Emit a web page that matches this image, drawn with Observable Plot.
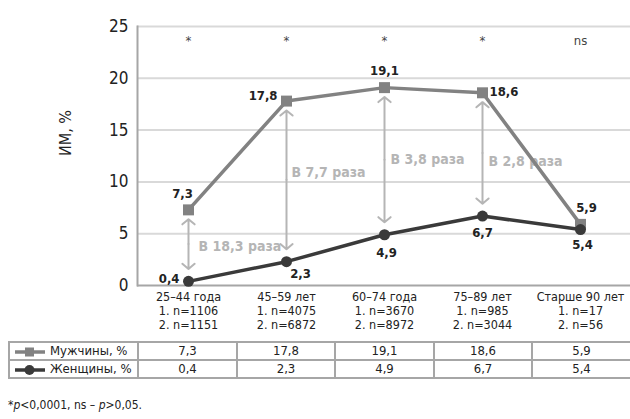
<!DOCTYPE html>
<html>
<head>
<meta charset="utf-8">
<script src="https://cdn.jsdelivr.net/npm/d3@7"></script>
<script src="https://cdn.jsdelivr.net/npm/@observablehq/plot@0.6"></script>
<style>
  body { margin: 0; background: #fff; font-family: "DejaVu Sans Condensed", "Liberation Sans Narrow", sans-serif; color: #222; }
  #chart svg { display: block; }
  table { border-collapse: collapse; table-layout: fixed; margin-left: 8px; margin-top: 6px; width: 622px; font-size: 13px; }
  td { border: 2px solid #a6a6a6; height: 16px; padding: 0; text-align: center; line-height: 16px; }
  td.lab { text-align: left; white-space: nowrap; }
  td.lab svg { vertical-align: middle; margin: 0 4px 0 4px; }
  .note { margin: 19px 0 0 8px; font-size: 12px; }
</style>
</head>
<body>
<div id="chart"></div>
<div id="table"></div>
<div class="note">*<i>p</i>&lt;0,0001, ns – <i>p</i>&gt;0,05.</div>
<script>
const categories = ["25–44 года", "45–59 лет", "60–74 года", "75–89 лет", "Старше 90 лет"];
const n1 = ["1106", "4075", "3670", "985", "17"];
const n2 = ["1151", "6872", "8972", "3044", "56"];
const men = [7.3, 17.8, 19.1, 18.6, 5.9];
const women = [0.4, 2.3, 4.9, 6.7, 5.4];
const significance = ["*", "*", "*", "*", "ns"];
const ratios = ["В 18,3 раза", "В 7,7 раза", "В 3,8 раза", "В 2,8 раза", null];
const yTicks = [0, 5, 10, 15, 20, 25];
const seriesNames = ["Мужчины, %", "Женщины, %"];

// layout for point labels and ratio notes (offsets in px)
const menLabelLayout = [
  {dx: -6, dy: -16, anchor: "middle"},
  {dx: -9, dy: -5, anchor: "end"},
  {dx: 0, dy: -17, anchor: "middle"},
  {dx: 7, dy: -1, anchor: "start"},
  {dx: 6, dy: -17, anchor: "middle"}
];
const womenLabelLayout = [
  {dx: -9, dy: -3, anchor: "end"},
  {dx: 14, dy: 12, anchor: "middle"},
  {dx: 2, dy: 18, anchor: "middle"},
  {dx: 0, dy: 17, anchor: "middle"},
  {dx: 2, dy: 15, anchor: "middle"}
];
const ratioLayout = [{dx: 10, dy: 1}, {dx: 5, dy: -9}, {dx: 6, dy: -2}, {dx: 6, dy: 7}];

const fmt = v => v.toFixed(1).replace(".", ",");
const MEN = "#828282", WOMEN = "#3a3a3a", ARROW = "#b5b5b5";

const rows = categories.map((c, i) => ({c, i, men: men[i], women: women[i], sig: significance[i], ratio: ratios[i]}));

const labelMarks = [];
rows.forEach((d, i) => {
  const a = menLabelLayout[i], b = womenLabelLayout[i];
  labelMarks.push(Plot.text([d], {x: "c", y: "men", text: r => fmt(r.men), dx: a.dx, dy: a.dy, textAnchor: a.anchor, fontWeight: "bold", fontSize: 13, fill: "#222"}));
  labelMarks.push(Plot.text([d], {x: "c", y: "women", text: r => fmt(r.women), dx: b.dx, dy: b.dy, textAnchor: b.anchor, fontWeight: "bold", fontSize: 13, fill: "#222"}));
});

const withRatio = rows.filter(d => d.ratio);
const ratioMarks = withRatio.map((d, k) => Plot.text([d], {x: "c", y: r => (r.men + r.women) / 2, text: "ratio",
  dx: ratioLayout[k].dx, dy: ratioLayout[k].dy, textAnchor: "start", fontWeight: "bold", fontSize: 14, fill: ARROW}));
const mid = d => (d.men - 0.9 + d.women + 1.2) / 2;

const chart = Plot.plot({
  width: 630,
  height: 335,
  marginLeft: 137,
  marginRight: 0,
  marginTop: 26,
  marginBottom: 50,
  style: {fontFamily: '"DejaVu Sans Condensed", "Liberation Sans Narrow", sans-serif', color: "#222", background: "#fff"},
  x: {type: "band", domain: categories, padding: 0},
  y: {domain: [0, 25]},
  marks: [
    Plot.ruleY(yTicks.filter(t => t > 0), {stroke: "#d9d9d9", strokeWidth: 2}),
    Plot.ruleY([0], {stroke: "#a6a6a6", strokeWidth: 2}),
    Plot.frame({anchor: "left", stroke: "#a6a6a6", strokeWidth: 2}),
    Plot.axisY({ticks: yTicks, tickSize: 0, tickPadding: 9, fontSize: 17, label: null}),
    Plot.axisX({tickSize: 0, tickPadding: 6, fontSize: 12.5, lineHeight: 1.12, label: null,
      tickFormat: c => { const i = categories.indexOf(c); return `${c}\n1. n=${n1[i]}\n2. n=${n2[i]}`; }}),
    Plot.text(["ИМ, %"], {frameAnchor: "left", dx: -72, rotate: -90, fontSize: 16, fill: "#222"}),
    Plot.text(rows, {x: "c", frameAnchor: "top", dy: 9, text: "sig", fontSize: 13, fill: "#444"}),
    Plot.arrow(withRatio, {x1: "c", x2: "c", y1: mid, y2: d => d.men - 0.9,
      stroke: ARROW, strokeWidth: 2, headAngle: 100, headLength: 6}),
    Plot.arrow(withRatio, {x1: "c", x2: "c", y1: mid, y2: d => d.women + 1.2,
      stroke: ARROW, strokeWidth: 2, headAngle: 100, headLength: 6}),
    ...ratioMarks,
    Plot.line(rows, {x: "c", y: "men", stroke: MEN, strokeWidth: 3.5}),
    Plot.dot(rows, {x: "c", y: "men", symbol: "square", r: 6.2, fill: MEN, stroke: "none"}),
    Plot.line(rows, {x: "c", y: "women", stroke: WOMEN, strokeWidth: 3.5}),
    Plot.dot(rows, {x: "c", y: "women", r: 5.5, fill: WOMEN, stroke: "none"}),
    ...labelMarks
  ]
});
document.getElementById("chart").append(chart);

// data table below the chart
function glyph(color, square) {
  const m = square
    ? `<rect x="11" y="1.5" width="9" height="9" fill="${color}"/>`
    : `<circle cx="15.5" cy="6" r="5" fill="${color}"/>`;
  return `<svg width="32" height="12"><line x1="1" y1="6" x2="31" y2="6" stroke="${color}" stroke-width="3.5"/>${m}</svg>`;
}
const colW = [129, 99, 98, 99, 98, 99];
let html = "<table><colgroup>" + colW.map(w => `<col style="width:${w}px">`).join("") + "</colgroup>";
[[men, MEN, true], [women, WOMEN, false]].forEach(([vals, col, sq], k) => {
  html += `<tr><td class="lab">${glyph(col, sq)}${seriesNames[k]}</td>` + vals.map(v => `<td>${fmt(v)}</td>`).join("") + "</tr>";
});
html += "</table>";
document.getElementById("table").innerHTML = html;
</script>
</body>
</html>
